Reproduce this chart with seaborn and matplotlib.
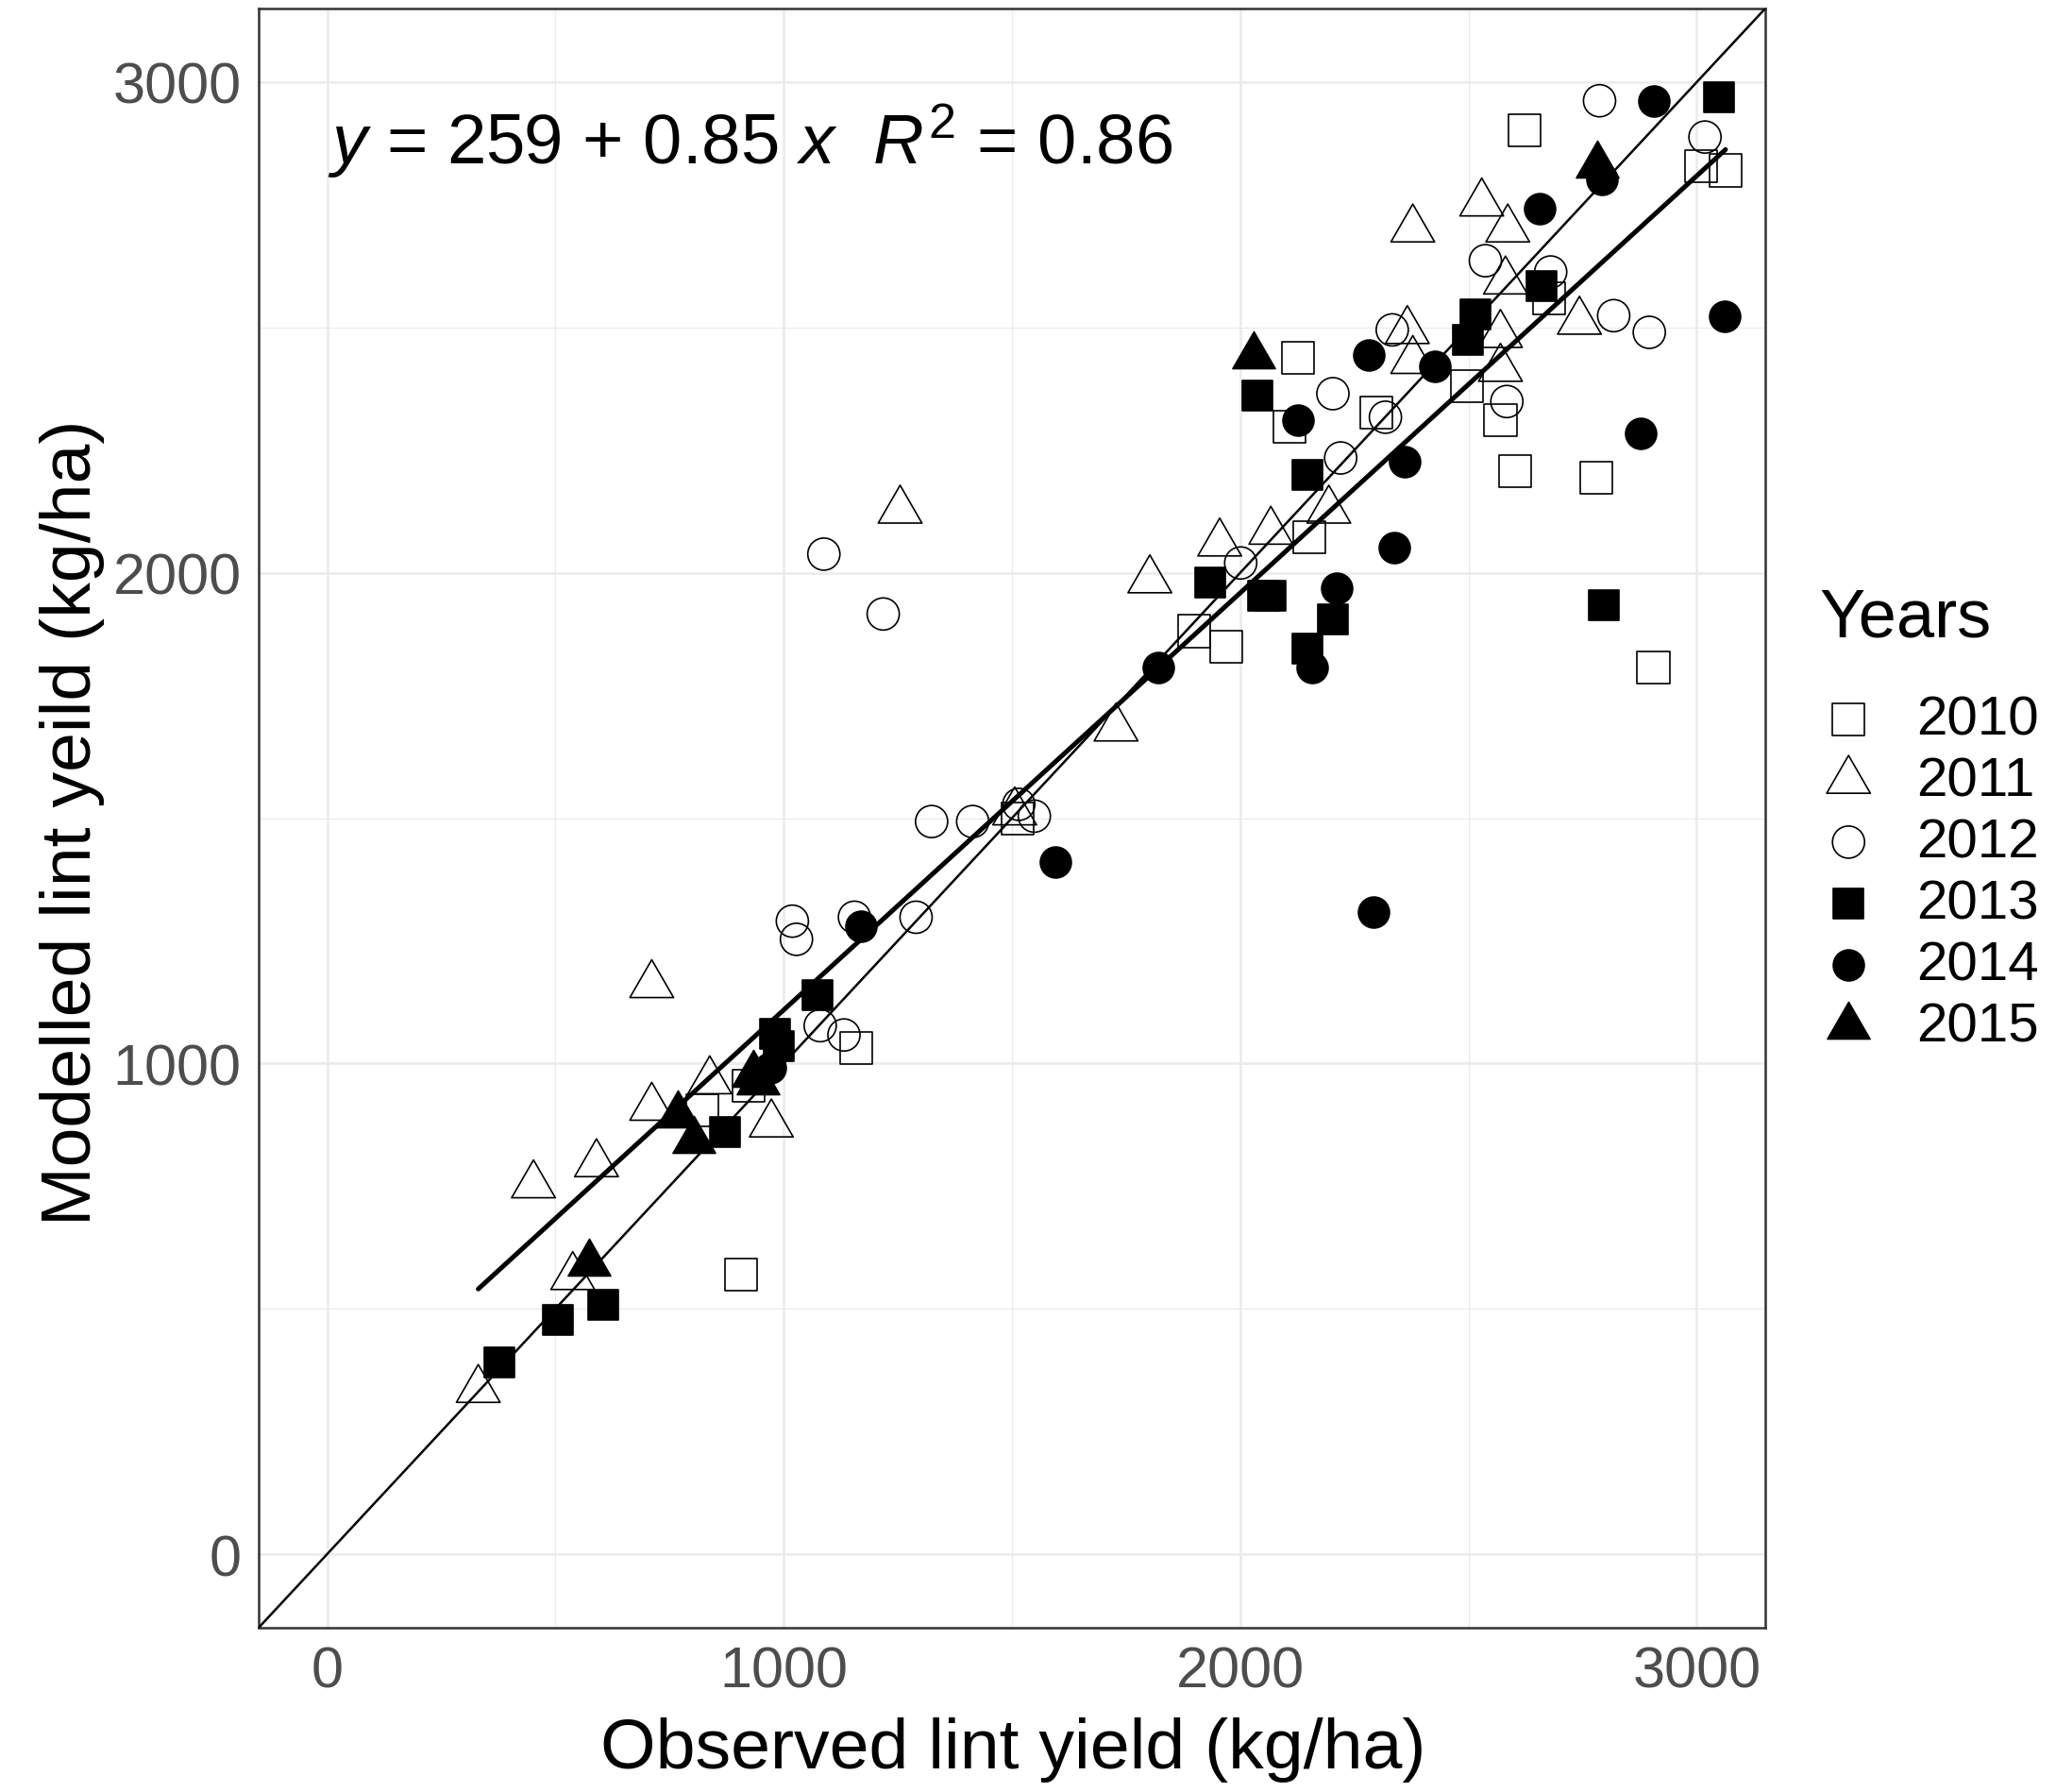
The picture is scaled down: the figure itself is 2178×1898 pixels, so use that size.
import numpy as np
import pandas as pd
import matplotlib.pyplot as plt
import seaborn as sns
from matplotlib.path import Path

# observed / modelled lint yield (kg/ha) by year
years = ["2010", "2011", "2012", "2013", "2014", "2015"]

obs_2010 = [2622, 3010, 3063, 2127, 2108, 2298, 2496, 2570, 2676, 2603, 2779,
            2151, 1900, 1969, 2905, 1512, 1158, 907, 924, 821]
mod_2010 = [2901, 2828, 2820, 2438, 2298, 2327, 2380, 2311, 2560, 2207, 2193,
            2073, 1881, 1849, 1806, 1499, 1031, 570, 954, 905]

obs_2011 = [331, 538, 452, 590, 711, 711, 838, 973, 1255, 1728, 1802, 1955,
            2067, 2194, 1506, 2529, 2378, 2586, 2581, 2366, 2378, 2570, 2570,
            2743]
mod_2011 = [335, 565, 752, 795, 910, 1160, 964, 876, 2127, 1683, 1985, 2060,
            2084, 2127, 1512, 2753, 2700, 2700, 2594, 2493, 2432, 2485, 2416,
            2512]

obs_2012 = [1088, 1218, 1019, 1028, 1155, 1290, 1080, 1132, 1324, 1414, 1515,
            1549, 2001, 2787, 3018, 2537, 2680, 2333, 2203, 2318, 2220, 2584,
            2818, 2896]
mod_2012 = [2038, 1916, 1290, 1253, 1298, 1298, 1077, 1058, 1493, 1493, 1528,
            1504, 2020, 2962, 2888, 2636, 2613, 2495, 2365, 2317, 2234, 2349,
            2524, 2490]

obs_2013 = [377, 505, 605, 872, 980, 990, 1075, 1935, 2050, 2067, 2038, 2148,
            2148, 2203, 2796, 2498, 2516, 2659, 3049]
mod_2013 = [390, 478, 508, 860, 1060, 1035, 1140, 1980, 1953, 1953, 2361,
            2199, 1846, 1905, 1934, 2475, 2527, 2585, 2969]

obs_2014 = [970, 1169, 1595, 1820, 2292, 2157, 2211, 2338, 2361, 2127, 2281,
            2426, 2655, 2793, 2906, 2877, 3061]
mod_2014 = [991, 1280, 1411, 1806, 1309, 1806, 1969, 2052, 2226, 2311, 2443,
            2421, 2742, 2801, 2962, 2284, 2522]

obs_2015 = [574, 768, 803, 944, 934, 2030, 2781]
mod_2015 = [592, 895, 842, 962, 978, 2441, 2830]

intercept = 259
slope = 0.85
r_squared = 0.86

obs = [obs_2010, obs_2011, obs_2012, obs_2013, obs_2014, obs_2015]
mod = [mod_2010, mod_2011, mod_2012, mod_2013, mod_2014, mod_2015]
df = pd.concat(
    [pd.DataFrame({"Observed": o, "Modelled": m, "Years": yr})
     for yr, o, m in zip(years, obs, mod)],
    ignore_index=True,
)

sns.set_style("white")
plt.rcParams["font.family"] = ["Liberation Sans", "DejaVu Sans"]
plt.rcParams["text.color"] = "black"
plt.rcParams["mathtext.fontset"] = "custom"
plt.rcParams["mathtext.rm"] = "Liberation Sans"
plt.rcParams["mathtext.it"] = "Liberation Sans:italic"

# closed equilateral triangle (ggplot shapes 2 / 17)
tri = Path([(0, 1), (-0.866, -0.5), (0.866, -0.5), (0, 1)], closed=True)
styles = {
    "2010": dict(marker="s", s=150, facecolor="none"),
    "2011": dict(marker=tri, s=370, facecolor="none"),
    "2012": dict(marker="o", s=150, facecolor="none"),
    "2013": dict(marker="s", s=140, facecolor="black"),
    "2014": dict(marker="o", s=140, facecolor="black"),
    "2015": dict(marker=tri, s=350, facecolor="black"),
}

fig = plt.figure(figsize=(10.89, 9.495), dpi=200)
ax = fig.add_axes([274 / 2178, 1 - 1725 / 1899, (1870 - 274) / 2178, (1725 - 10) / 1899])

for yr in years:
    st = styles[yr]
    sns.scatterplot(
        data=df[df["Years"] == yr], x="Observed", y="Modelled",
        marker=st["marker"], s=st["s"], color="black",
        facecolor=st["facecolor"], edgecolor="black",
        linewidth=0.6, ax=ax, label=yr, legend=False, zorder=3,
    )

# 1:1 line and fitted regression line
ax.axline((0, 0), slope=1, color="black", lw=0.9, zorder=4)
xfit = np.array([df["Observed"].min(), df["Observed"].max()])
ax.plot(xfit, intercept + slope * xfit, color="black", lw=1.8, zorder=4)

ax.text(0, 2834, r"$y$ = 259 + 0.85 $x$  $R^2$ = 0.86", fontsize=26.8,
        ha="left", va="baseline", zorder=5)

ax.set_xlim(-150, 3150)
ax.set_ylim(-150, 3150)
ax.set_xticks([0, 1000, 2000, 3000])
ax.set_yticks([0, 1000, 2000, 3000])
ax.set_xticks([500, 1500, 2500], minor=True)
ax.set_yticks([500, 1500, 2500], minor=True)
ax.grid(which="major", color="#EBEBEB", lw=0.9)
ax.grid(which="minor", color="#EBEBEB", lw=0.45)
ax.set_axisbelow(True)
for sp in ax.spines.values():
    sp.set_color("#333333")
    sp.set_linewidth(0.9)
ax.tick_params(which="major", length=3.6, width=0.9, color="#333333",
               labelsize=22, labelcolor="#4D4D4D", pad=3)
ax.tick_params(which="minor", length=0)
ax.set_xlabel("")
ax.set_ylabel("")

fig.text(0.4927, 0.0135, "Observed lint yield (kg/ha)", fontsize=27.1,
         ha="center", va="baseline")
fig.text(0.0353, 0.5414, "Modelled lint yeild (kg/ha)", fontsize=27.1,
         ha="center", va="center", rotation=90)

handles, labels = ax.get_legend_handles_labels()
leg = fig.legend(handles, labels, loc="upper left", bbox_to_anchor=(0.8857, 0.6124),
                 frameon=False, fontsize=21, handlelength=1.0, handletextpad=0.74,
                 labelspacing=0.19, borderpad=0, borderaxespad=0)
for t in leg.get_texts():
    t.set_color("black")
fig.text(0.8848, 0.6446, "Years", fontsize=26, ha="left", va="baseline")

fig.savefig("out.png", dpi=200)
